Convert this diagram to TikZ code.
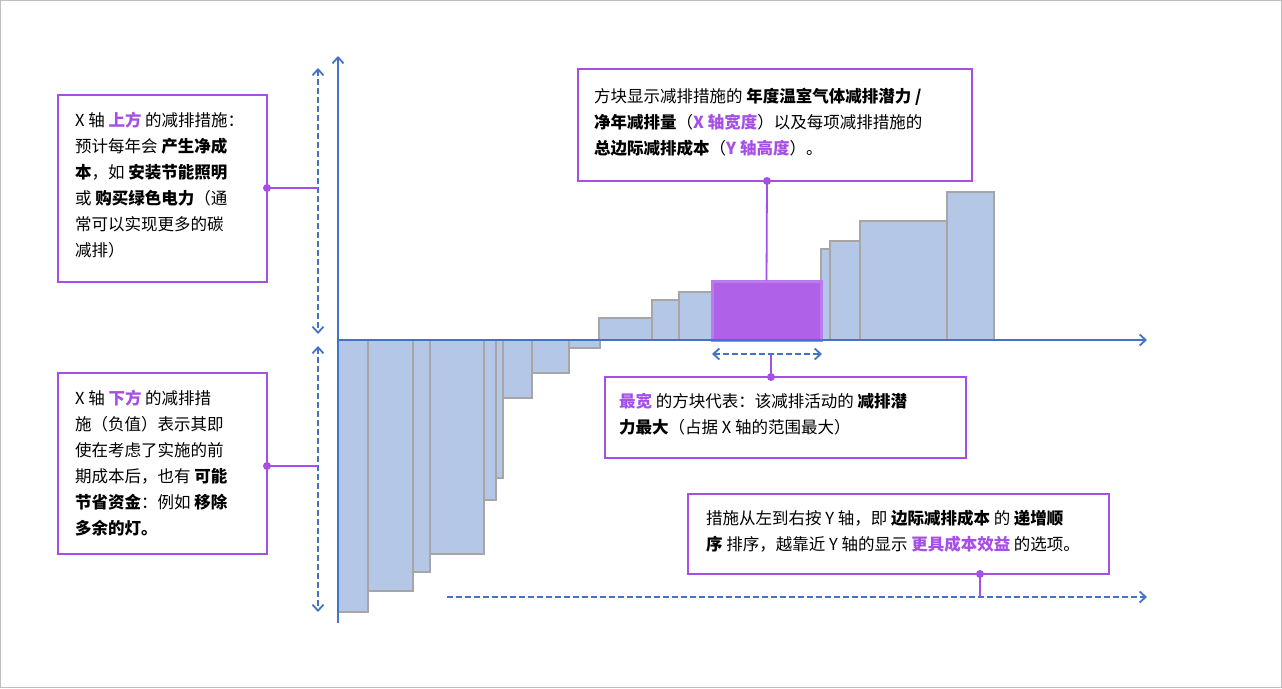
\documentclass[tikz,border=0pt]{standalone}
\usepackage{fontspec}
\setmainfont{Noto Sans CJK SC}
\usetikzlibrary{arrows.meta}
\definecolor{axblue}{HTML}{4472C4}
\definecolor{barfill}{HTML}{B4C7E7}
\definecolor{barline}{HTML}{A6A6A6}
\definecolor{pur}{HTML}{A64FE6}
\begin{document}
\begin{tikzpicture}[x=1pt,y=-1pt,
  bar/.style={fill=barfill,draw=barline,line width=1.5pt},
  note/.style={draw=pur,line width=2.6pt,fill=white},
  txt/.style={anchor=north west,align=left,font=\fontsize{16.5}{26}\selectfont,inner sep=0pt},
  conn/.style={draw=pur,line width=1.8pt},
  dotc/.style={circle,fill=pur,inner sep=0pt,minimum size=8pt},
  dash2/.style={draw=axblue,line width=1.6pt,dash pattern=on 6pt off 3pt,{Straight Barb[length=6pt,width=11pt,line width=1.8pt]}-{Straight Barb[length=6pt,width=11pt,line width=1.8pt]}},
  dash1/.style={draw=axblue,line width=1.6pt,dash pattern=on 6pt off 3pt,-{Straight Barb[length=6pt,width=11pt,line width=1.8pt]}}]
\useasboundingbox (0,0) rectangle (1282,688);
\draw[draw=black!25,line width=1.2pt] (0.6,0.6) rectangle (1281.4,687.4);
\newcommand{\hb}[1]{\textbf{#1}}
\newcommand{\hp}[1]{\textcolor{pur}{\textbf{#1}}}
% negative bars
\foreach \a/\b/\c in {338/368/612,368/413/591,413/430/572,430/484/554,484/496/500,496/503/478,503/532/398,532/569/373,569/600/348}
  \draw[bar] (\a,340) rectangle (\b,\c);
% positive bars
\foreach \a/\b/\c in {599/652/318,652/679/300,679/712/292,821/830/249,830/860/241,860/947/221,947/994/192}
  \draw[bar] (\a,340) rectangle (\b,\c);
\draw[fill=pur!90!white,draw=pur!75!white,line width=3pt] (712,340) rectangle (821,281);
\node[inner sep=0pt] (pbar) at (766.5,281) {};
% axes
\coordinate (o) at (338,340);
\coordinate (ytop) at (338,56);
\coordinate (ybot) at (338,623);
\coordinate (xend) at (1147,340);
\draw[axblue,line width=1.8pt,-{Straight Barb[length=6pt,width=11pt,line width=1.8pt]}] (ybot) -- (ytop);
\draw[axblue,line width=1.8pt,-{Straight Barb[length=6pt,width=11pt,line width=1.8pt]}] (o) -- (xend);
% dashed arrows
\coordinate (la1) at (318,68); \coordinate (la2) at (318,334);
\coordinate (lb1) at (318,346); \coordinate (lb2) at (318,612);
\draw[dash2] (la1) -- (la2);
\draw[dash2] (lb1) -- (lb2);
\coordinate (w1) at (712,354); \coordinate (w2) at (822,354);
\draw[dash2] (w1) -- (w2);
\coordinate (bd1) at (447,597); \coordinate (bd2) at (1147,597);
\draw[dash1] (bd1) -- (bd2);
% boxes
\draw[note] (58,95) rectangle (267,282);
\node[txt] (t1) at (75,112) {X 轴 \hp{上方} 的减排措施：\\预计每年会 \hb{产生净成}\\\hb{本}，如 \hb{安装节能照明}\\或 \hb{购买绿色电力}（通\\常可以实现更多的碳\\减排）};
\coordinate (c1) at (318,188);
\draw[conn] (c1) -- (267,188) node[dotc] {};
\draw[note] (58,373) rectangle (267,554);
\node[txt] (t2) at (75,390) {X 轴 \hp{下方} 的减排措\\施（负值）表示其即\\使在考虑了实施的前\\期成本后，也有 \hb{可能}\\\hb{节省资金}：例如 \hb{移除}\\\hb{多余的灯。}};
\coordinate (c2) at (318,466);
\draw[conn] (c2) -- (267,466) node[dotc] {};
\draw[note] (578,69) rectangle (972,181);
\node[txt] (t3) at (594,88) {方块显示减排措施的 \hb{年度温室气体减排潜力 /}\\\hb{净年减排量}（\hp{X 轴宽度}）以及每项减排措施的\\\hb{总边际减排成本}（\hp{Y 轴高度}）。};
\draw[conn] (pbar) -- (767,181) node[dotc] {};
\draw[note] (605,377) rectangle (966,458);
\node[txt] (t4) at (619,393) {\hp{最宽} 的方块代表：该减排活动的 \hb{减排潜}\\\hb{力最大}（占据 X 轴的范围最大）};
\coordinate (c4) at (771,355);
\draw[conn] (c4) -- (771,377) node[dotc] {};
\draw[note] (688,494) rectangle (1109,574);
\node[txt] (t5) at (706,510) {措施从左到右按 Y 轴，即 \hb{边际减排成本} 的 \hb{递增顺}\\\hb{序} 排序，越靠近 Y 轴的显示 \hp{更具成本效益} 的选项。};
\coordinate (c5) at (980,597);
\draw[conn] (c5) -- (980,574) node[dotc] {};
\end{tikzpicture}
\end{document}
